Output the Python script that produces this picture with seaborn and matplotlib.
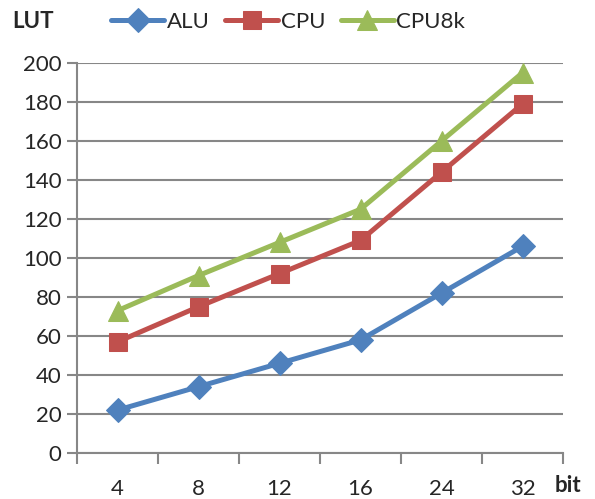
import matplotlib.pyplot as plt
import numpy as np
import pandas as pd
import seaborn as sns

bits = ['4', '8', '12', '16', '24', '32']
alu = [22, 34, 46, 58, 82, 106]
cpu = [57, 75, 92, 109, 144, 179]
cpu8k = [73, 91, 108, 125, 160, 195]

series = {'ALU': alu, 'CPU': cpu, 'CPU8k': cpu8k}
colors = {'ALU': '#4F81BD', 'CPU': '#C0504D', 'CPU8k': '#9BBB59'}
markers = {'ALU': 'D', 'CPU': 's', 'CPU8k': '^'}
msizes = {'ALU': 12, 'CPU': 13, 'CPU8k': 14}

rows = []
for name, vals in series.items():
    for b, v in zip(bits, vals):
        rows.append([name, b, v])
df = pd.DataFrame(rows, columns=['Series', 'Bit', 'LUT'])

sns.set_style('white')
plt.rcParams['font.family'] = ['Lato', 'DejaVu Sans']

fig = plt.figure(figsize=(5.95, 4.99), dpi=100)
# plot area: x 77..563 px, y 63..453 px
ax = fig.add_axes([77 / 595, 1 - 453 / 499, 486 / 595, 390 / 499])

for name in series:
    sub = df[df['Series'] == name]
    sns.lineplot(ax=ax, data=sub, x='Bit', y='LUT', sort=False, color=colors[name],
                 marker=markers[name], markersize=msizes[name], markeredgecolor=colors[name],
                 linewidth=3.6, label=name, legend=False)

ax.set_ylim(0, 200)
ax.set_yticks(np.arange(0, 201, 20))
ax.set_xlim(-0.5, len(bits) - 0.5)
ax.set_xticks(range(len(bits)))
ax.set_xticklabels(bits)
ax.set_xticks(np.arange(-0.5, len(bits)), minor=True)
ax.yaxis.grid(True, color='#878787', linewidth=1.5)
ax.xaxis.grid(False)
ax.set_axisbelow(True)
for s in ['top', 'right']:
    ax.spines[s].set_visible(False)
for s in ['left', 'bottom']:
    ax.spines[s].set_color('#878787')
    ax.spines[s].set_linewidth(1.5)
ax.tick_params(axis='y', which='major', left=True, length=7, width=1.5, color='#878787',
               labelsize=16, pad=4)
ax.tick_params(axis='x', which='major', bottom=False, labelsize=16, pad=15)
ax.tick_params(axis='x', which='minor', bottom=True, length=8, width=1.5, color='#878787')
ax.set_xlabel('')
ax.set_ylabel('')

fig.text(12 / 595, 1 - 22 / 499, 'LUT', fontsize=16, fontweight='bold', va='center', ha='left')
fig.text(555 / 595, 1 - 485 / 499, 'bit', fontsize=16, fontweight='bold', va='center', ha='left')

handles, labels = ax.get_legend_handles_labels()
fig.legend(handles, labels, loc='center', bbox_to_anchor=(288 / 595, 1 - 22 / 499), ncol=3,
           frameon=False, fontsize=16, handlelength=2.4, handletextpad=0.1, columnspacing=0.7,
           borderaxespad=0)

fig.savefig('out.png', dpi=100)
